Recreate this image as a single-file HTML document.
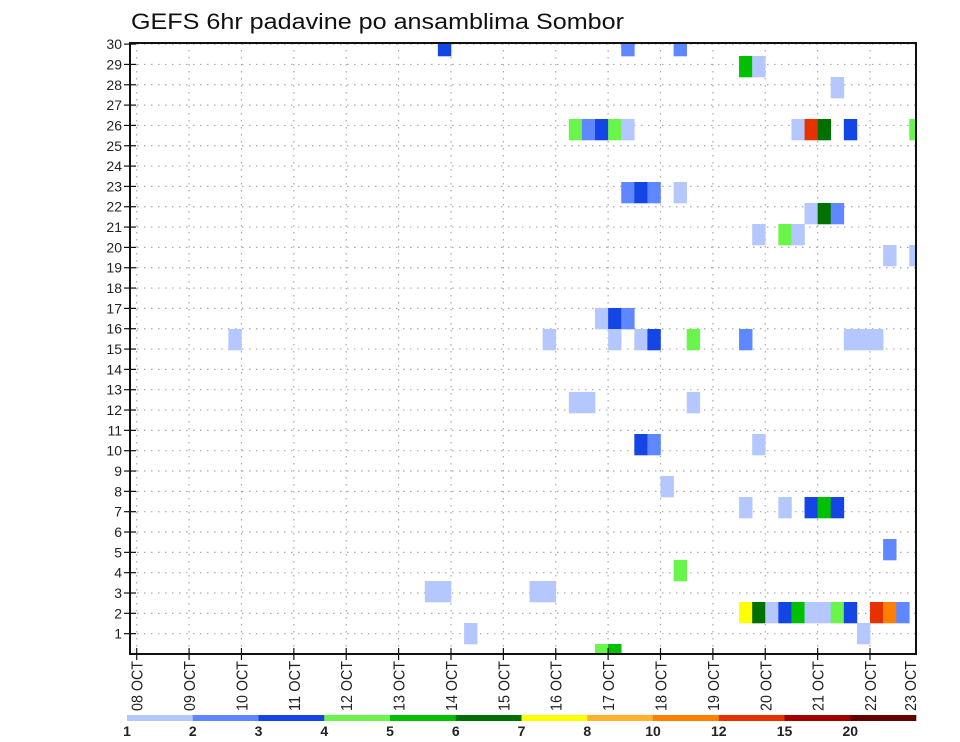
<!DOCTYPE html>
<html><head><meta charset="utf-8"><style>
html,body{margin:0;padding:0;background:#fff;}
svg{display:block;font-family:"Liberation Sans",sans-serif;}
</style></head><body>
<svg id="chart" width="960" height="742" viewBox="0 0 960 742">
<text x="131" y="29" font-size="22" textLength="493" lengthAdjust="spacingAndGlyphs" fill="#111">GEFS 6hr padavine po ansamblima Sombor</text>
<g id="grid"></g>
<g id="cells"></g>
<g id="axes"></g>
<g id="cbar"></g>
</svg>
<script>
// ---- data ----
const dayLabels = ["08 OCT","09 OCT","10 OCT","11 OCT","12 OCT","13 OCT","14 OCT","15 OCT","16 OCT","17 OCT","18 OCT","19 OCT","20 OCT","21 OCT","22 OCT","23 OCT"];
const memberTicks = [1,2,3,4,5,6,7,8,9,10,11,12,13,14,15,16,17,18,19,20,21,22,23,24,25,26,27,28,29,30];
// each cell: member index, 6-hour step index (from 08 OCT 00Z), precipitation (mm)
const cellMembers = [29,29,29, 28,28, 27,
 25,25,25,25,25,25,25,25,25,25,
 22,22,22,22, 21,21,21, 20,20,20, 19,19,
 16,16,16,
 15,15,15,15,15,15,15,15,15,15,
 12,12,12, 10,10,10, 8,
 7,7,7,7,7, 5, 4, 3,3,3,3,
 2,2,2,2,2,2,2,2,2,2,2,2,
 1,1, 0,0];
const cellSteps = [23,37,41, 46,47, 53,
 33,34,35,36,37,50,51,52,54,59,
 37,38,39,41, 51,52,53, 47,49,50, 57,59,
 35,36,37,
 7,31,36,38,39,42,46,54,55,56,
 33,34,42, 38,39,47, 40,
 46,49,51,52,53, 57, 41, 22,23,30,31,
 46,47,48,49,50,51,52,53,54,56,57,58,
 25,55, 35,36];
const cellValues = [3.5,2.5,2.5, 5.5,1.5, 1.5,
 4.5,2.5,3.5,4.5,1.5,1.5,13,6.5,3.5,4.5,
 2.5,3.5,2.5,1.5, 1.5,6.5,2.5, 1.5,4.5,1.5, 1.5,1.5,
 1.5,3.5,2.5,
 1.5,1.5,1.5,1.5,3.5,4.5,2.5,1.5,1.5,1.5,
 1.5,1.5,1.5, 3.5,2.5,1.5, 1.5,
 1.5,1.5,3.5,5.5,3.5, 2.5, 4.5, 1.5,1.5,1.5,1.5,
 7.5,6.5,1.5,3.5,5.5,1.5,1.5,4.5,3.5,13,11,2.5,
 1.5,1.5, 4.5,5.5];
const levels = [1,2,3,4,5,6,7,8,10,12,15,20];
const levelColors = ["#b4c8ff","#5f87ff","#1446e6","#6af54a","#00c000","#007000","#ffff00","#ffb02e","#ff8000","#e63200","#a50000","#640000"];

// ---- scales ----
const L=130,R=916,T=43,B=654;
const x0=136.7, stepW=13.095;
function xStep(i){return x0+i*stepW;}
function xDay(d){return x0+d*4*stepW;}
function yTick(m){return B-m*20.33;}
function yCell(m){return 654.5-m*21;}
function colorFor(v){let c=levelColors[0];for(let k=0;k<levels.length;k++){if(v>=levels[k])c=levelColors[k];}return c;}
const NS="http://www.w3.org/2000/svg";
function mk(tag,attrs,parent){const e=document.createElementNS(NS,tag);for(const k in attrs)e.setAttribute(k,attrs[k]);parent.appendChild(e);return e;}

const defs=mk("defs",{},document.getElementById("chart"));
const cp=mk("clipPath",{id:"plotclip"},defs);
mk("rect",{x:L,y:T,width:R-L,height:B-T},cp);

// grid
const grid=document.getElementById("grid");
memberTicks.forEach(m=>{
  const l=mk("line",{x1:L,x2:R,y1:yTick(m),y2:yTick(m),stroke:"#aaa","stroke-width":1.2,"stroke-dasharray":"1.5 5.5"},grid);
  
  
});
dayLabels.forEach((d,i)=>{
  const x=xDay(i); if(x>R) return;
  const l=mk("line",{x1:x,x2:x,y1:T,y2:B,stroke:"#aaa","stroke-width":1.2,"stroke-dasharray":"1.5 5.5"},grid);
  
  
});

// cells
const cells=document.getElementById("cells");
cells.setAttribute("clip-path","url(#plotclip)");
for(let i=0;i<cellValues.length;i++){
  const r=mk("rect",{x:xStep(cellSteps[i]),y:yCell(cellMembers[i])-10.5,width:stepW+0.3,height:21.3,fill:colorFor(cellValues[i])},cells);
  
  
}

// axes
const axes=document.getElementById("axes");
mk("rect",{x:L,y:T,width:R-L,height:B-T,fill:"none",stroke:"#111","stroke-width":2},axes);
memberTicks.forEach(m=>{
  const y=yTick(m);
  mk("line",{x1:124,x2:136,y1:y,y2:y,stroke:"#111","stroke-width":1.2},axes);
  const t=mk("text",{x:122,y:y+5,"font-size":14,"text-anchor":"end",fill:"#222"},axes);
  t.textContent=m;
  
  
});
dayLabels.forEach((d,i)=>{
  let x=xDay(i);
  if(x<=R) mk("line",{x1:x,x2:x,y1:B-6,y2:B+6,stroke:"#111","stroke-width":1.2},axes);
  if(x>R) x=910;
  const t=mk("text",{x:0,y:0,"font-size":16,"text-anchor":"start",textLength:"50",lengthAdjust:"spacingAndGlyphs",fill:"#222",transform:"translate("+(x+6)+",711) rotate(-90)"},axes);
  t.textContent=d;
  
  
});

// colorbar
const cbar=document.getElementById("cbar");
const cbL=127,cbW=(916-127)/levels.length;
levels.forEach((lv,k)=>{
  const r=mk("rect",{x:cbL+k*cbW,y:715,width:cbW+0.3,height:6,fill:levelColors[k]},cbar);
  
  
  const t=mk("text",{x:cbL+k*cbW,y:736,"font-size":14,"font-weight":"bold","text-anchor":"middle",fill:"#222"},cbar);
  t.textContent=lv;
  
  
});
</script>
</body></html>
